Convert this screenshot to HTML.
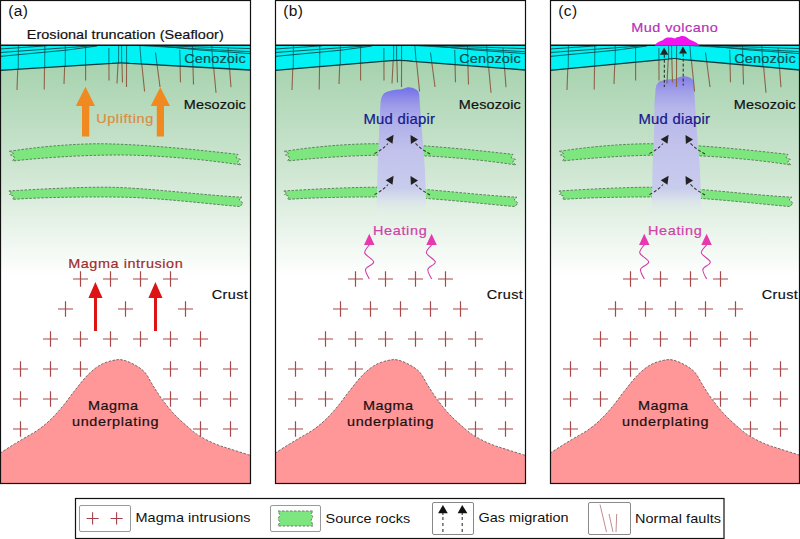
<!DOCTYPE html>
<html><head><meta charset="utf-8">
<style>
html,body{margin:0;padding:0;background:#fff;width:800px;height:539px;overflow:hidden}
svg{display:block}
text{font-family:"Liberation Sans",sans-serif;}
</style></head><body>
<svg width="800" height="539" viewBox="0 0 800 539">
<defs>
  <linearGradient id="bg" gradientUnits="userSpaceOnUse" x1="0" y1="62" x2="0" y2="276">
    <stop offset="0" stop-color="#a6d2ae"/>
    <stop offset="0.55" stop-color="#d2e8d5"/>
    <stop offset="1" stop-color="#ffffff"/>
  </linearGradient>
  <linearGradient id="diap" gradientUnits="userSpaceOnUse" x1="0" y1="88" x2="0" y2="216">
    <stop offset="0" stop-color="#7472e8"/>
    <stop offset="0.13" stop-color="#9c9ae8"/>
    <stop offset="0.25" stop-color="#aeaeea"/>
    <stop offset="0.5" stop-color="#c2c2ec"/>
    <stop offset="0.78" stop-color="#c8ccec"/>
    <stop offset="0.87" stop-color="#d8e0ea"/>
    <stop offset="1" stop-color="#e8f0ee" stop-opacity="0"/>
  </linearGradient>
  <linearGradient id="diapc" gradientUnits="userSpaceOnUse" x1="0" y1="77" x2="0" y2="216">
    <stop offset="0" stop-color="#8480e8"/>
    <stop offset="0.1" stop-color="#a09ee8"/>
    <stop offset="0.22" stop-color="#b6b6ea"/>
    <stop offset="0.5" stop-color="#c2c2ec"/>
    <stop offset="0.8" stop-color="#c8ccec"/>
    <stop offset="0.88" stop-color="#d8e0ea"/>
    <stop offset="1" stop-color="#e8f0ee" stop-opacity="0"/>
  </linearGradient>

  <g id="plus"><path d="M-7 0H8M0.5 -7.7V7.7" stroke="#a84848" stroke-width="1.2" fill="none"/></g>

  <g id="base">
    <rect x="0" y="0" width="250" height="484" fill="#fff"/>
    <rect x="0" y="60" width="250" height="424" fill="url(#bg)"/>
    <!-- source rock bands -->
    <path d="M9.4 151.3 C50 145 90 143 112 144 C150 145 200 150 238 154.4 L236 157.5 L240.5 159.5 L237.5 162 L241 165 C200 158.5 150 155 119 155 C80 155 40 158 12.5 161 L15 157.5 L10.5 155 L13.5 153.5 Z" fill="#7ee67e" stroke="#5e7a5e" stroke-width="0.95" stroke-dasharray="2.5 1.5"/>
    <path d="M8.75 191 C40 189 80 187 109 187.2 C150 188 200 195 242 197.2 L239 200 L243 203 L240 206.6 C210 204 160 198 125 197.2 C80 196.5 40 197.5 12.5 199.4 L14.5 196.5 L9.5 194.5 L12 193 Z" fill="#7ee67e" stroke="#5e7a5e" stroke-width="0.95" stroke-dasharray="2.5 1.5"/>
  </g>

  <g id="pluses">
    <use href="#plus" x="80" y="279"/><use href="#plus" x="110" y="279"/><use href="#plus" x="140" y="279"/><use href="#plus" x="170" y="279"/>
    <use href="#plus" x="65" y="309"/><use href="#plus" x="125" y="309"/><use href="#plus" x="185" y="309"/>
    <use href="#plus" x="50" y="339"/><use href="#plus" x="80" y="339"/><use href="#plus" x="110" y="339"/><use href="#plus" x="140" y="339"/><use href="#plus" x="170" y="339"/><use href="#plus" x="200" y="339"/>
    <use href="#plus" x="20" y="369"/><use href="#plus" x="50" y="369"/><use href="#plus" x="80" y="369"/><use href="#plus" x="170" y="369"/><use href="#plus" x="200" y="369"/><use href="#plus" x="230" y="369"/>
    <use href="#plus" x="20" y="399"/><use href="#plus" x="50" y="399"/><use href="#plus" x="170" y="399"/><use href="#plus" x="200" y="399"/><use href="#plus" x="230" y="399"/>
    <use href="#plus" x="20" y="429"/><use href="#plus" x="200" y="429"/><use href="#plus" x="230" y="429"/>
  </g>

  <g id="hill">
    <path d="M0.0 453.2 C2.1 451.9 8.3 447.8 12.5 445.2 C16.7 442.6 20.8 440.2 25.0 437.7 C29.2 435.2 33.4 433.1 37.6 430.2 C41.8 427.3 45.9 424.1 50.1 420.1 C54.3 416.1 58.4 411.4 62.6 406.4 C66.8 401.4 71.0 395.2 75.2 390.0 C79.4 384.8 83.5 379.2 87.7 375.0 C91.9 370.8 96.0 367.4 100.2 365.0 C104.4 362.6 109.0 361.3 112.7 360.5 C116.5 359.7 119.0 359.2 122.7 360.0 C126.4 360.8 131.3 362.9 135.0 365.0 C138.7 367.1 142.1 369.2 145.0 372.5 C147.9 375.8 149.7 380.4 152.6 385.0 C155.5 389.6 158.8 395.0 162.6 400.0 C166.3 405.0 170.5 410.3 175.1 415.1 C179.7 419.9 185.9 425.3 190.1 428.9 C194.3 432.4 196.0 433.9 200.2 436.4 C204.4 438.9 210.2 441.8 215.2 443.9 C220.2 446.0 224.4 447.1 230.2 449.0 C236.0 450.9 246.7 454.2 250.0 455.2 L250 484 L0 484 Z" fill="#ff9698"/>
    <path d="M0.0 453.2 C2.1 451.9 8.3 447.8 12.5 445.2 C16.7 442.6 20.8 440.2 25.0 437.7 C29.2 435.2 33.4 433.1 37.6 430.2 C41.8 427.3 45.9 424.1 50.1 420.1 C54.3 416.1 58.4 411.4 62.6 406.4 C66.8 401.4 71.0 395.2 75.2 390.0 C79.4 384.8 83.5 379.2 87.7 375.0 C91.9 370.8 96.0 367.4 100.2 365.0 C104.4 362.6 109.0 361.3 112.7 360.5 C116.5 359.7 119.0 359.2 122.7 360.0 C126.4 360.8 131.3 362.9 135.0 365.0 C138.7 367.1 142.1 369.2 145.0 372.5 C147.9 375.8 149.7 380.4 152.6 385.0 C155.5 389.6 158.8 395.0 162.6 400.0 C166.3 405.0 170.5 410.3 175.1 415.1 C179.7 419.9 185.9 425.3 190.1 428.9 C194.3 432.4 196.0 433.9 200.2 436.4 C204.4 438.9 210.2 441.8 215.2 443.9 C220.2 446.0 224.4 447.1 230.2 449.0 C236.0 450.9 246.7 454.2 250.0 455.2" fill="none" stroke="#6e5a5a" stroke-width="0.9" stroke-dasharray="2.5 1.5"/>
    <text transform="translate(88.0 410.0) scale(1.07 1)" font-size="13.5" textLength="46.73" lengthAdjust="spacing" fill="#1a1010" stroke="#1a1010" stroke-width="0.2">Magma</text>
    <text transform="translate(72.0 425.6) scale(1.07 1)" font-size="13.5" textLength="80.84" lengthAdjust="spacing" fill="#1a1010" stroke="#1a1010" stroke-width="0.2">underplating</text>
  </g>

  <g id="faultsBrown"><g stroke="#8e6248" stroke-width="1.1" fill="none">
      <path d="M18.4 50 L17 90"/><path d="M44.8 50 L44.2 89.5"/><path d="M65.3 50 L64 84"/><path d="M85.6 50 L85.6 80.6"/>
      <path d="M108.9 50 L109 80.6"/><path d="M118.7 50 L117 83.5"/><path d="M121.6 50 L122.5 82.6"/><path d="M126.6 50 L126.5 87"/>
      <path d="M139.8 45 L144.6 91.5"/><path d="M155.5 52.5 L160 87"/><path d="M179.7 50 L180.5 82.3"/><path d="M192.5 50 L193.5 84.5"/>
      <path d="M211.7 45.6 L216 92.8"/><path d="M228 47.8 L231 87.3"/>
    </g></g>
  <g id="cyanInner"><g stroke="#0a4a4e" fill="none" stroke-width="0.9">
      <path d="M0 49 L47 45.8"/>
      <path d="M0 52.5 L97 45.5"/>
      <path d="M0 56.4 L66 50.2 L97 46"/>
      <path d="M250 48.6 L156 45.5"/>
      <path d="M250 51.7 L180 47.8 L140 45.5"/>
      <path d="M250 53.6 L200 50 L160 46"/>
    </g><g stroke="#0a5a5e" stroke-width="0.8" fill="none">
      <path d="M18.4 45 L18.2 72"/><path d="M44.8 45 L44.7 72"/><path d="M65.3 45 L65.2 72"/><path d="M85.6 45 L85.6 72"/>
      <path d="M108.9 48 L108.9 72"/><path d="M118.7 45 L118.4 72"/><path d="M121.6 45 L121.7 72"/><path d="M126.6 45 L126.6 72"/>
      <path d="M139.8 45 L142 72"/><path d="M155.5 52.5 L158 72"/><path d="M179.7 50 L180.5 72"/><path d="M192.5 45.6 L193 72"/>
      <path d="M211.7 45.6 L213.3 72"/><path d="M228 47.8 L229.7 72"/>
    </g></g>
  <clipPath id="clipA"><path d="M0 70.3 L112 63.4 Q121 62.5 130 63.3 L250 70 L250 45 L0 45 Z"/></clipPath>
  <clipPath id="clipB"><path d="M0 70.4 L110 61.2 Q124 59.4 138 61.3 L250 70 L250 45 L0 45 Z"/></clipPath>
  <g id="cyanA">
    <use href="#faultsBrown"/>
    <path d="M0 70.3 L112 63.4 Q121 62.5 130 63.3 L250 70 L250 45 L0 45 Z" fill="#00f2f4"/>
    <g clip-path="url(#clipA)"><use href="#cyanInner"/></g>
    <path d="M0 70.3 L112 63.4 Q121 62.5 130 63.3 L250 70" stroke="#0a3a3e" stroke-width="1.3" fill="none"/>
    <path d="M0 45.2 H250" stroke="#111" stroke-width="1.4" fill="none"/>
  </g>
  <g id="cyanB">
    <use href="#faultsBrown"/>
    <path d="M0 70.4 L110 61.2 Q124 59.4 138 61.3 L250 70 L250 45 L0 45 Z" fill="#00f2f4"/>
    <g clip-path="url(#clipB)"><use href="#cyanInner"/></g>
    <path d="M0 70.4 L110 61.2 Q124 59.4 138 61.3 L250 70" stroke="#0a3a3e" stroke-width="1.3" fill="none"/>
    <path d="M0 45.2 H250" stroke="#111" stroke-width="1.4" fill="none"/>
  </g>
  <clipPath id="clipC"><path d="M0 70.4 L118 59.2 Q124.5 58.2 131 59.3 L250 70 L250 45 L0 45 Z"/></clipPath>
  <g id="cyanC">
    <use href="#faultsBrown"/>
    <path d="M0 70.4 L118 59.2 Q124.5 58.2 131 59.3 L250 70 L250 45 L0 45 Z" fill="#00f2f4"/>
    <g clip-path="url(#clipC)"><use href="#cyanInner"/></g>
    <path d="M0 70.4 L118 59.2 Q124.5 58.2 131 59.3 L250 70" stroke="#0a3a3e" stroke-width="1.3" fill="none"/>
    <path d="M0 45.2 H250" stroke="#111" stroke-width="1.4" fill="none"/>
  </g>

  <g id="labels">
    <text transform="translate(184.2 63.2) scale(1.07 1)" font-size="13.5" textLength="57.48" lengthAdjust="spacing" fill="#0a4a50" stroke="#0a4a50" stroke-width="0.2">Cenozoic</text>
    <text transform="translate(183.8 109.3) scale(1.07 1)" font-size="13.5" textLength="57.94" lengthAdjust="spacing" fill="#111" stroke="#111" stroke-width="0.2">Mesozoic</text>
    <text transform="translate(211.8 298.75) scale(1.07 1)" font-size="13.5" textLength="33.64" lengthAdjust="spacing" fill="#111" stroke="#111" stroke-width="0.2">Crust</text>
  </g>

  <g id="heating">
    <text transform="translate(97.9 235.3) scale(1.07 1)" font-size="13.5" textLength="50.28" lengthAdjust="spacing" fill="#d040a8" stroke="#d040a8" stroke-width="0.2">Heating</text>
    <g fill="none" stroke="#d040a8" stroke-width="1.1">
      <path d="M94.3 244.9 C93.5 246.2 89.1 250.2 89.8 253.0 C90.5 255.8 98.6 259.3 98.7 262.0 C98.8 264.7 91.3 266.5 90.6 269.3 C89.9 272.1 93.7 277.4 94.3 279.0"/>
      <path d="M156.6 244.9 C155.7 246.2 150.8 250.2 151.4 253.0 C152.0 255.8 160.1 259.3 160.3 262.0 C160.6 264.7 153.5 266.5 152.9 269.3 C152.3 272.1 156.0 277.4 156.6 279.0"/>
    </g>
    <path d="M94.3 233.7 L89 245 L99.5 245 Z" fill="#e838b0"/>
    <path d="M156.6 233.7 L151.3 245 L161.8 245 Z" fill="#e838b0"/>
  </g>

  <g id="gasarrows">
    <g fill="none" stroke="#333" stroke-width="1.1" stroke-dasharray="3 2">
      <path d="M99.5 153.5 Q107 150 113 143.5"/>
      <path d="M155 154 Q147 150 140 143"/>
      <path d="M99.5 194.5 Q107 191 113 184.5"/>
      <path d="M155 195 Q147 191 140 184"/>
    </g>
    <g fill="#222">
      <path d="M110.75 139.25 L118.6 134.75 L117.5 143.75 Z"/>
      <path d="M135.5 135.1 L143 139.6 L135.9 144.1 Z"/>
      <path d="M110.75 180.25 L118.6 175.75 L117.5 184.75 Z"/>
      <path d="M135.5 176.1 L143 180.6 L135.9 185.1 Z"/>
    </g>
  </g>

  <rect id="border" x="0.5" y="0.5" width="250" height="483" fill="none" stroke="#111" stroke-width="1.2"/>
  <rect id="borderc" x="0.5" y="0.5" width="249" height="483" fill="none" stroke="#111" stroke-width="1.2"/>
</defs>

<!-- Panel A -->
<g transform="translate(0 0)">
  <use href="#base"/>
  <use href="#pluses"/>
  <use href="#hill"/>
  <use href="#cyanA"/>
  <use href="#labels"/>
  <text transform="translate(8.2 15.6) scale(1.07 1)" font-size="14.5" textLength="18.32" lengthAdjust="spacing" fill="#111" >(a)</text>
  <text transform="translate(26.7 39.0) scale(1.07 1)" font-size="13.5" textLength="184.11" lengthAdjust="spacing" fill="#111" stroke="#111" stroke-width="0.2">Erosional truncation (Seafloor)</text>
  <!-- uplifting arrows -->
  <path d="M85.5 86.7 L95 106 L89.3 106 L89.3 136.4 L82 136.4 L82 106 L75.8 106 Z" fill="#f08a20"/>
  <path d="M160.3 87.2 L170 106 L164 106 L164 136.4 L156.8 136.4 L156.8 106 L150.7 106 Z" fill="#f08a20"/>
  <text transform="translate(96.2 123.2) scale(1.07 1)" font-size="13.5" textLength="53.27" lengthAdjust="spacing" fill="#dc8c40" stroke="#dc8c40" stroke-width="0.2">Uplifting</text>
  <!-- magma intrusion -->
  <text transform="translate(68.2 267.8) scale(1.07 1)" font-size="13.5" textLength="107.01" lengthAdjust="spacing" fill="#a02c2c" stroke="#a02c2c" stroke-width="0.2">Magma intrusion</text>
  <g fill="#dc1414">
    <path d="M95.4 282 L102.5 298 L97 298 L97 331 L94 331 L94 298 L88.4 298 Z"/>
    <path d="M155.4 282 L162.5 298 L157 298 L157 331 L154 331 L154 298 L148.4 298 Z"/>
  </g>
  <use href="#border"/>
</g>

<!-- Panel B -->
<g transform="translate(275 0)">
  <use href="#base"/>
  <use href="#pluses"/>
  <use href="#plus" x="95" y="309"/><use href="#plus" x="155" y="309"/>
  <use href="#hill"/>
  <path d="M104.4 125 L105.5 102.5 C106 98 107.5 94 110 92.75 C113 91 120 89.6 125 89.6 C127 89.4 129 88.4 131.75 87.5 C135 86.8 139 88 141.5 89.75 C143.5 91 144.5 93 144.5 98.75 L146 120 L150 170 L151.5 216 L101.5 216 L102.5 170 Z" fill="url(#diap)"/>
  <use href="#gasarrows"/>
  <use href="#cyanB"/>
  <use href="#labels"/>
  <text transform="translate(88.5 123.7) scale(1.07 1)" font-size="13.9" textLength="66.82" lengthAdjust="spacing" fill="#18188e" stroke="#18188e" stroke-width="0.2">Mud diapir</text>
  <use href="#heating"/>
  <text transform="translate(8.2 15.6) scale(1.07 1)" font-size="14.5" textLength="18.32" lengthAdjust="spacing" fill="#111" >(b)</text>
  <use href="#border"/>
</g>

<!-- Panel C -->
<g transform="translate(550 0)">
  <use href="#base"/>
  <use href="#pluses"/>
  <use href="#plus" x="95" y="309"/><use href="#plus" x="155" y="309"/>
  <use href="#hill"/>
  <path d="M104.4 105 L105.5 89.75 C106 86 106.5 84.5 107.4 83.75 C108.5 82 109.5 81.5 110.75 81.1 L117.5 79.6 L125 78.9 C127 78.5 128 77.5 129.5 77 C131 76.5 133 76.25 134.75 76.25 C137 76.5 138.5 77 140 77.75 C141.5 78.5 142.5 79.5 143 80.75 C143.8 83 144.1 85 144.1 87.5 L146 120 L150 170 L151.5 216 L101.5 216 L102.5 170 L104.4 125 Z" fill="url(#diapc)"/>
  <use href="#gasarrows"/>
  <use href="#cyanC"/>
  <use href="#labels"/>
  <g fill="none" stroke="#222" stroke-width="1" stroke-dasharray="3 2">
    <path d="M114.3 54.75 V87"/><path d="M133.2 53.6 V85.5"/>
  </g>
  <g fill="#222">
    <path d="M114.1 47.6 L110 54.75 L118.25 54.75 Z"/><path d="M132.9 46.5 L129.1 53.6 L137 53.6 Z"/>
  </g>
  <path d="M104.75 45.8 L106.25 43.5 C108 42 110 41 112.25 40.5 C114 39 116 37.5 117.5 37.5 L121.25 37.5 L125 38.6 C126 37.5 128 36.8 129.5 36.75 C131 36 132 36 133.25 36 C134.5 36 136 36.8 137 37.5 L140 39.75 C142 40.5 144 41.5 146 42.4 C147.5 43.5 149 44.5 149.75 45.8 Z" fill="#f014f0"/>
  <text transform="translate(88.5 123.7) scale(1.07 1)" font-size="13.9" textLength="66.82" lengthAdjust="spacing" fill="#18188e" stroke="#18188e" stroke-width="0.2">Mud diapir</text>
  <text transform="translate(81.2 31.8) scale(1.07 1)" font-size="13.5" textLength="80.84" lengthAdjust="spacing" fill="#b830b8" stroke="#b830b8" stroke-width="0.2">Mud volcano</text>
  <use href="#heating"/>
  <text transform="translate(8.2 15.6) scale(1.07 1)" font-size="14.5" textLength="17.76" lengthAdjust="spacing" fill="#111" >(c)</text>
  <use href="#borderc"/>
</g>

<!-- Legend -->
<g>
  <rect x="75.5" y="498.5" width="648.5" height="40" fill="#fff" stroke="#111" stroke-width="1.2"/>
  <rect x="79.5" y="505.5" width="51" height="26" rx="1.5" fill="#fff" stroke="#999" stroke-width="1"/>
  <path d="M86.6 518.5H98.6M92.6 512.3V524.5M110.6 518.5H122.6M116.6 512.3V524.5" stroke="#a8404c" stroke-width="1.1" fill="none"/>
  <text transform="translate(135.5 521.9) scale(1.07 1)" font-size="13.5" textLength="107.48" lengthAdjust="spacing" fill="#111">Magma intrusions</text>
  <rect x="270.5" y="505.5" width="50" height="26" rx="1.5" fill="#fff" stroke="#999" stroke-width="1"/>
  <path d="M278 511 L313 511 L311 514 L313 517 L311 520 L313 526 L278 526 L280 522 L278 519 L280 515 Z" fill="#7ee67e" stroke="#5e7a5e" stroke-width="0.95" stroke-dasharray="2.5 1.5"/>
  <text transform="translate(325.5 522.5) scale(1.07 1)" font-size="13.5" textLength="79.25" lengthAdjust="spacing" fill="#111">Source rocks</text>
  <rect x="432.5" y="502.5" width="41" height="32" rx="1.5" fill="#fff" stroke="#888" stroke-width="1"/>
  <g fill="none" stroke="#333" stroke-width="1.1" stroke-dasharray="3 3"><path d="M442.9 517 V533"/><path d="M462.2 517 V533"/></g><path d="M442.9 513 V515 M462.2 513 V515" stroke="#333" stroke-width="1.1"/>
  <g fill="#111"><path d="M442.9 505 L438.1 513.2 L447.8 513.2 Z"/><path d="M462.2 505 L457.7 513.2 L467.4 513.2 Z"/></g>
  <text transform="translate(478.4 521.9) scale(1.07 1)" font-size="13.5" textLength="84.30" lengthAdjust="spacing" fill="#111">Gas migration</text>
  <rect x="588.5" y="502.5" width="42" height="32" rx="1.5" fill="#fff" stroke="#8a8a8a" stroke-width="1"/>
  <g stroke="#b07074" stroke-width="0.8" fill="none"><path d="M600 504.5 L606.5 532"/><path d="M609 514 L613 532"/><path d="M616.7 514 L616 532"/></g>
  <text transform="translate(635.0 522.9) scale(1.07 1)" font-size="13.5" textLength="80.37" lengthAdjust="spacing" fill="#111">Normal faults</text>
</g>
</svg>
</body></html>
